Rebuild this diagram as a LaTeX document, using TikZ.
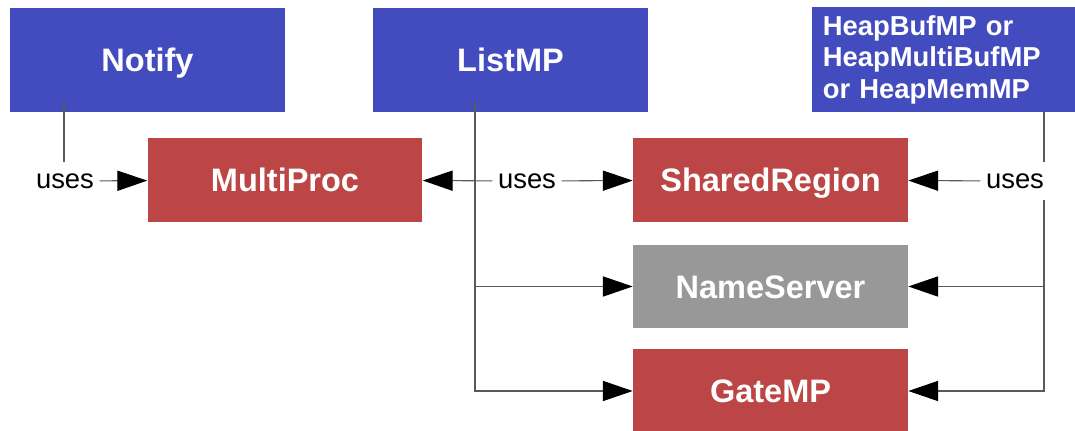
\documentclass[tikz,border=0pt]{standalone}
\usepackage{fontspec}
\setmainfont{Liberation Sans}
\usetikzlibrary{arrows.meta}
\definecolor{modblue}{RGB}{67,76,191}
\definecolor{modred}{RGB}{187,70,69}
\definecolor{modgray}{RGB}{152,152,152}
\tikzset{
  topbox/.style={fill=modblue, text=white, font=\bfseries\fontsize{18.5}{22}\selectfont,
    minimum width=5.5cm, minimum height=2.1cm, text height=13.3pt, text depth=0pt},
  modbox/.style={fill=modred, text=white, font=\bfseries\fontsize{18.5}{22}\selectfont,
    minimum width=5.5cm, minimum height=1.68cm, text height=13.3pt, text depth=0pt},
  uses/.style={font=\fontsize{15.6}{18}\selectfont, inner xsep=3pt, inner ysep=6.5pt},
  link/.style={draw=black!65, line width=0.6pt},
  usesarrow/.style={link, -{Triangle[length=17pt,width=11.5pt,color=black]}}
}
\begin{document}
\begin{tikzpicture}[x=0.02cm, y=-0.02cm]
                \useasboundingbox (0,0) rectangle (1075,431);
                \node[topbox] (notify) at (147.5,60) {Notify};
                \node[topbox] (listmp) at (510.5,60) {ListMP};
                \node[topbox, anchor=north west, minimum width=5.26cm, inner xsep=6pt,
                    text width=4.84cm, text height=, text depth=, align=left,
                    font=\bfseries\fontsize{15.6}{18}\selectfont] (heap) at (812,7)
                    {HeapBufMP or\\HeapMultiBufMP\\or HeapMemMP};
                \node[modbox] (multiproc) at (285,180) {MultiProc};
                \node[modbox] (shared) at (770.5,180) {SharedRegion};
                \node[modbox, fill=modgray] (nameserver) at (770.5,286.5) {NameServer};
                \node[modbox] (gatemp) at (770.5,391) {GateMP};
                \node[uses] (notifyuses) at (65,181) {uses};
                \node[uses] (listuses) at (527,181) {uses};
                \node[uses] (heapuses) at (1015,181) {uses};
                \coordinate (notifyfoot) at (64,102);
                \coordinate (listfoot) at (475,102);
                \coordinate (heapfoot) at (1044,112);
                \draw[link] (notifyfoot) -- (notifyuses.north -| notifyfoot);
                \draw[usesarrow] (notifyuses) -- (multiproc);
                \draw[usesarrow] (listfoot) |- (nameserver.west);
                \draw[usesarrow] (listfoot) |- (gatemp.west);
                \draw[usesarrow] (listuses) -- (multiproc);
                \draw[usesarrow] (listuses) -- (shared);
                \draw[link] (heapfoot) -- (heapuses.north -| heapfoot);
                \draw[usesarrow] (heapuses.south -| heapfoot) |- (nameserver.east);
                \draw[usesarrow] (heapuses.south -| heapfoot) |- (gatemp.east);
                \draw[usesarrow] (heapuses) -- (shared);
\end{tikzpicture}
\end{document}
